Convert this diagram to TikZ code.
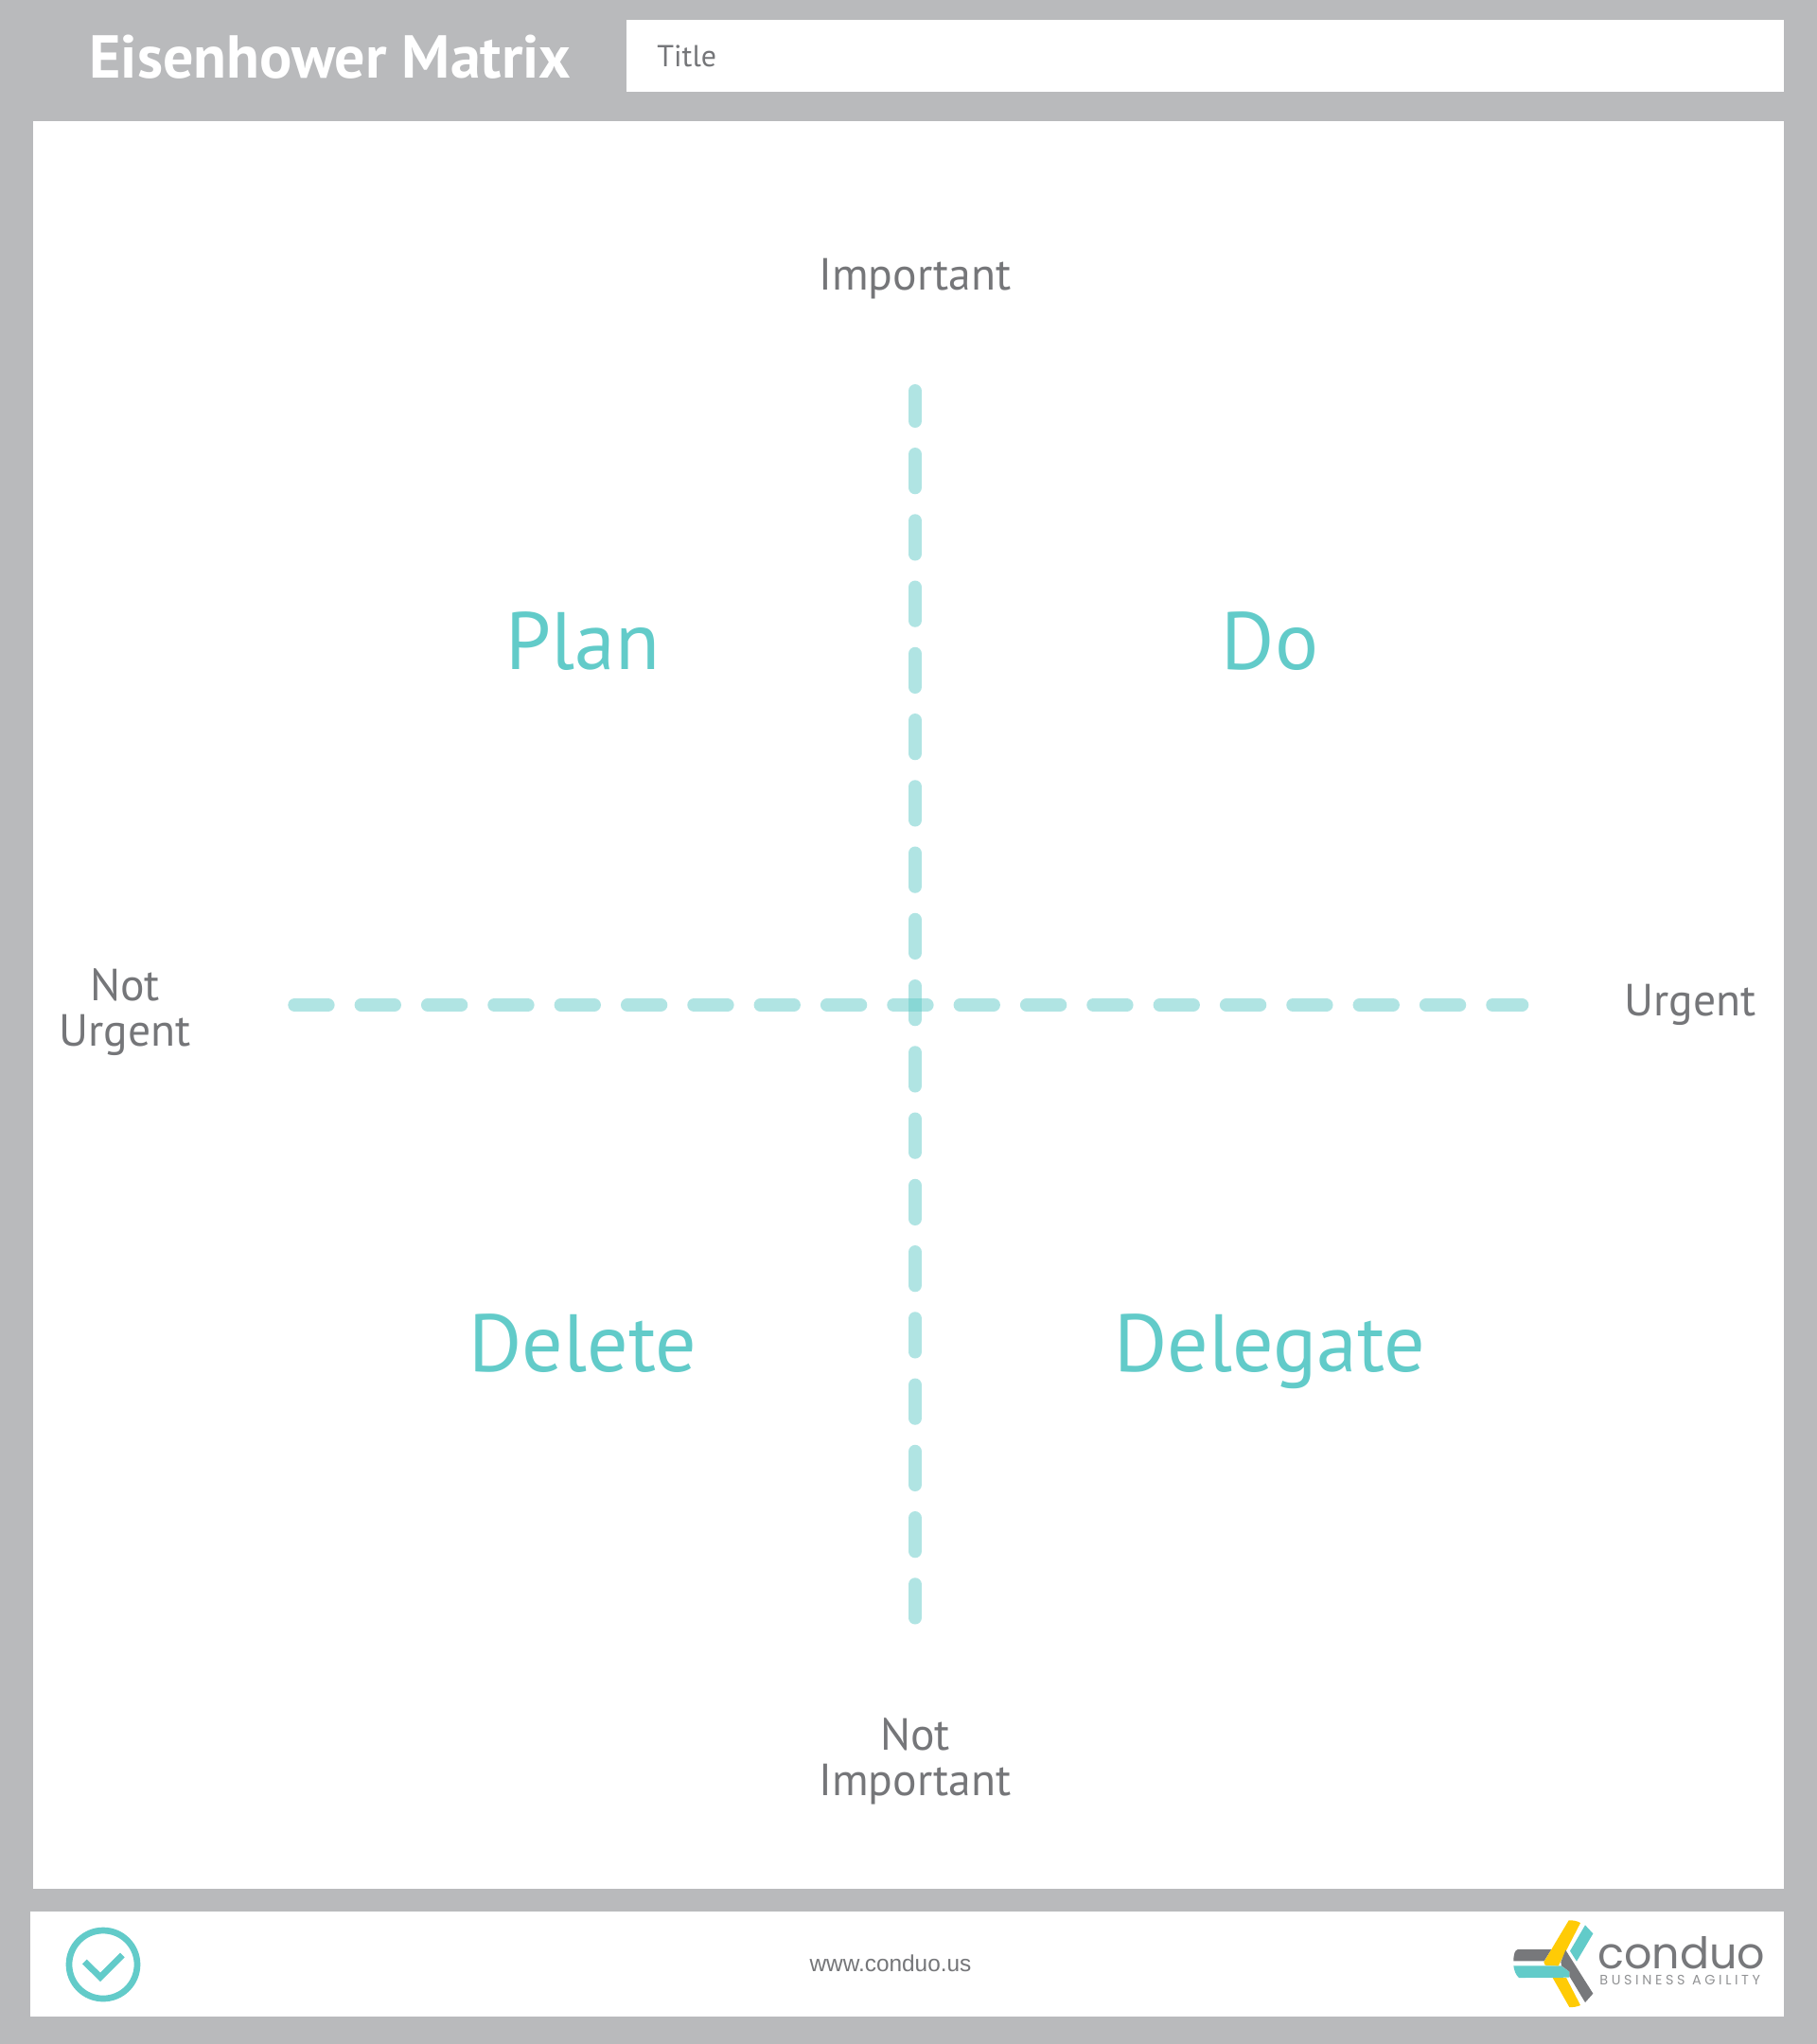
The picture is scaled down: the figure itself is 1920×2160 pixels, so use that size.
\documentclass[tikz,border=0pt]{standalone}
\usepackage{fontspec}
\setmainfont{PT Sans}
\newfontfamily\webfont{Liberation Sans}
\newfontfamily\logofont{Poppins}
\newfontfamily\logosub[LetterSpace=25]{Poppins}
\definecolor{framegray}{HTML}{B9BABC}
\definecolor{labelgray}{HTML}{757679}
\definecolor{teal}{HTML}{62CBC9}
\definecolor{logogray}{HTML}{77787B}
\definecolor{logoyellow}{HTML}{FFCB05}
\tikzset{
  x=0.5pt,y=-0.5pt,
  panel/.style={fill=white,draw=none},
  axisline/.style={draw=teal,opacity=0.5,line width=7pt,line cap=round},
  axislabel/.style={text=labelgray,font=\fontsize{23.8}{24}\selectfont,align=center,inner sep=0pt},
  quadlabel/.style={text=teal,font=\fontsize{43}{48}\selectfont,inner sep=0pt,anchor=base},
}
\begin{document}
\begin{tikzpicture}
\useasboundingbox (0,0) rectangle (1920,2160);
\fill[framegray] (0,0) rectangle (1920,2160);
\fill[panel] (662,21) rectangle (1885,97);
\fill[panel] (35,128) rectangle (1885,1996);
\fill[panel] (32,2020) rectangle (1885,2131);
\node[text=white,font=\fontsize{32}{36}\selectfont\bfseries,anchor=base west,inner sep=0pt] (heading) at (94,82) {Eisenhower Matrix};
\node[text=labelgray,font=\fontsize{16}{18}\selectfont,anchor=base west,inner sep=0pt] (titlefield) at (694,70) {Title};
% axes
\coordinate (vtop) at (967,413);
\coordinate (vbot) at (967,1710);
\coordinate (hleft) at (311.3,1062);
\coordinate (hright) at (1608.3,1062);
\draw[axisline,dash pattern=on 17.625pt off 17.5pt,dash phase=1.625pt] (vtop) -- (vbot);
\draw[axisline,dash pattern=on 17.665pt off 17.5pt] (hleft) -- (hright);
% axis labels
\node[axislabel] (imp) at (967,295) {Important};
\node[axislabel] (notimp) at (967,1861) {Not\\Important};
\node[axislabel] (urg) at (1786,1062) {Urgent};
\node[axislabel] (noturg) at (132,1070) {Not\\Urgent};
% quadrant labels
\node[quadlabel] (plan) at (616,707) {Plan};
\node[quadlabel] (do) at (1342,707) {Do};
\node[quadlabel] (delete) at (616,1449) {Delete};
\node[quadlabel] (delegate) at (1342,1449) {Delegate};
% footer
\draw[teal,line width=3.35pt] (109,2076) circle (36);
\draw[teal,line width=3.35pt,miter limit=10] (89.3,2073) -- (106,2089.3) -- (129.3,2066);
\node[text=labelgray,font=\webfont\fontsize{12.2}{14}\selectfont,inner sep=0pt] (web) at (941,2075) {www.conduo.us};
% logo
\begin{scope}[shift={(1590,2020)},x=0.1667pt,y=-0.1667pt]
\fill[teal] (28,172) -- (178,172) -- (205,190) -- (205,209) -- (45,210) .. controls (35,200) and (30,188) .. cycle;
\fill[logogray] (28,157) .. controls (28,135) and (32,122) .. (42,120) -- (148,120) -- (125,157) -- cycle;
\fill[teal] (255,43) -- (280,70) -- (228,158) -- (207,125) -- cycle;
\fill[logoyellow] (203,28) .. controls (216,27) and (230,30) .. (240,36) -- (170,172) -- (128,170) -- (124,160) -- cycle;
\fill[logoyellow] (152,210) -- (195,210) -- (240,297) .. controls (228,302) and (216,304) .. (205,303) -- cycle;
\fill[logogray] (193,122) -- (280,260) -- (255,288) -- (205,205) -- (205,190) -- (180,172) -- (178,160) -- cycle;
\end{scope}
\node[text=logogray,font=\logofont\fontsize{23}{26}\selectfont,anchor=base west,inner sep=0pt] (logoname) at (1688,2080) {conduo};
\node[text=logogray!80,font=\logosub\fontsize{7.2}{8}\selectfont,anchor=base west,inner sep=0pt] (logosub) at (1690,2097) {BUSINESS AGILITY};
\end{tikzpicture}
\end{document}
